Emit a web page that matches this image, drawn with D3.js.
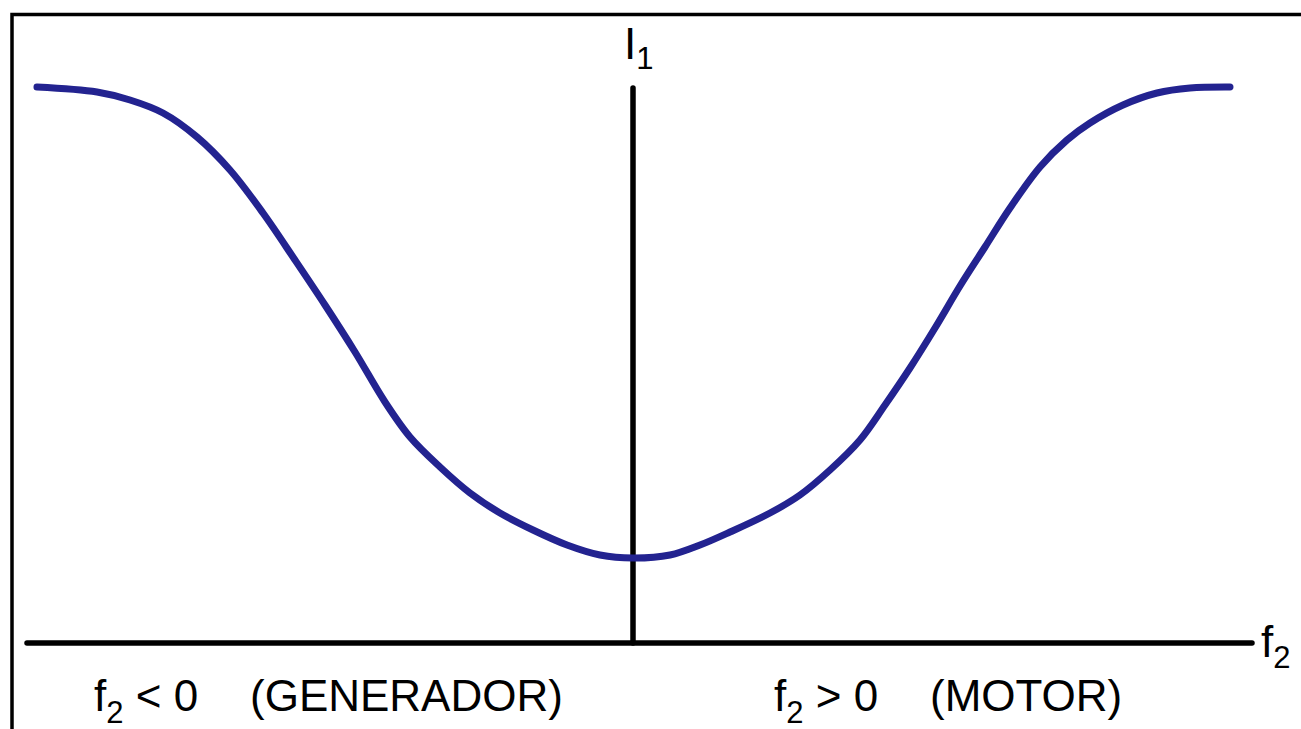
<!DOCTYPE html>
<html>
<head>
<meta charset="utf-8">
<script src="https://cdn.jsdelivr.net/npm/d3@7"></script>
<style>
  html, body { margin: 0; padding: 0; background: #fff; }
  svg { display: block; }
  text { font-family: "Liberation Sans", Arial, Helvetica, sans-serif; fill: #000; }
</style>
</head>
<body>
<div id="container"></div>
<script>
var WIDTH = 1301,
	HEIGHT = 729;

// f2 (slip, arbitrary units) and I1 (stator current)
var f2 = [-59.6, -53.6, -50.3, -47.0, -43.6, -40.3, -37.0, -33.8, -30.8, -27.8,
	-24.8, -22.3, -19.3, -16.3, -13.3, -10.0, -6.6, -3.3, 0,
	3.7, 6.7, 9.7, 13.7, 16.7, 19.7, 22.7, 25.2, 27.7, 30.2,
	32.7, 35.2, 37.7, 40.7, 43.4, 45.7, 49.0, 52.4, 55.7, 59.7];
var i1 = [55.6, 55.1, 54.3, 53.0, 50.6, 47.3, 43.0, 38.3, 33.8, 29.1,
	24.1, 20.6, 17.6, 15.0, 13.0, 11.3, 9.8, 8.8, 8.5,
	8.8, 9.8, 11.1, 13.0, 14.8, 17.3, 20.3, 23.8, 27.5, 31.5,
	35.7, 39.6, 43.5, 47.6, 50.3, 52.0, 53.8, 55.0, 55.5, 55.6];

var xAxisExtent = [-60.6, 61.9];
var yAxisTop = 55.5;

var axisLabels = { y: ["I", "1"], x: ["f", "2"] };
var regionLabels = [
	{ at: -53.9, sub: "2", rest: " < 0" , tag: "(GENERADOR)", tagAt: -38.3 },
	{ at: 14.1, sub: "2", rest: " > 0", tag: "(MOTOR)", tagAt: 29.7 }
];

var data = f2.map(function(d, i){ return { x: d, y: i1[i] }; });

var xScale = d3.scaleLinear().domain([-60, 60]).range([33, 1233]);
var yScale = d3.scaleLinear().domain([0, 56]).range([643, 83]);

var svg = d3.select('#container')
	.append('svg')
	.attr('width', WIDTH)
	.attr('height', HEIGHT);

// frame (runs off the right and bottom edges)
svg.append('rect')
	.attr('x', 12)
	.attr('y', 14.5)
	.attr('width', 1330)
	.attr('height', 760)
	.attr('fill', 'none')
	.attr('stroke', '#000')
	.attr('stroke-width', 3.5);

// axes
svg.append('line')
	.attr('x1', xScale(xAxisExtent[0]))
	.attr('x2', xScale(xAxisExtent[1]))
	.attr('y1', yScale(0))
	.attr('y2', yScale(0))
	.attr('stroke', '#000')
	.attr('stroke-width', 5.5)
	.attr('stroke-linecap', 'round');

svg.append('line')
	.attr('x1', xScale(0))
	.attr('x2', xScale(0))
	.attr('y1', yScale(0))
	.attr('y2', yScale(yAxisTop))
	.attr('stroke', '#000')
	.attr('stroke-width', 5.5)
	.attr('stroke-linecap', 'round');

// curve
var line = d3.line()
	.x(function(d){ return xScale(d.x); })
	.y(function(d){ return yScale(d.y); })
	.curve(d3.curveCatmullRom.alpha(0.5));

svg.append('path')
	.attr('d', line(data))
	.attr('fill', 'none')
	.attr('stroke', '#232390')
	.attr('stroke-width', 7)
	.attr('stroke-linecap', 'round')
	.attr('stroke-linejoin', 'round');

// axis labels
var yl = svg.append('text')
	.attr('x', xScale(0) - 9)
	.attr('y', 59)
	.attr('font-size', 44);
yl.append('tspan').text(axisLabels.y[0]);
yl.append('tspan').attr('font-size', 31).attr('dy', 10).text(axisLabels.y[1]);

var xl = svg.append('text')
	.attr('x', 1261)
	.attr('y', 657)
	.attr('font-size', 44);
xl.append('tspan').text(axisLabels.x[0]);
xl.append('tspan').attr('font-size', 31).attr('dy', 11).text(axisLabels.x[1]);

// region labels
regionLabels.forEach(function(r){
	var t = svg.append('text')
		.attr('x', xScale(r.at))
		.attr('y', 711)
		.attr('font-size', 44);
	t.append('tspan').text('f');
	t.append('tspan').attr('font-size', 31).attr('dy', 12).text(r.sub);
	t.append('tspan').attr('dy', -12).text(r.rest);
	svg.append('text')
		.attr('x', xScale(r.tagAt))
		.attr('y', 711)
		.attr('font-size', 44)
		.text(r.tag);
});
</script>
</body>
</html>
